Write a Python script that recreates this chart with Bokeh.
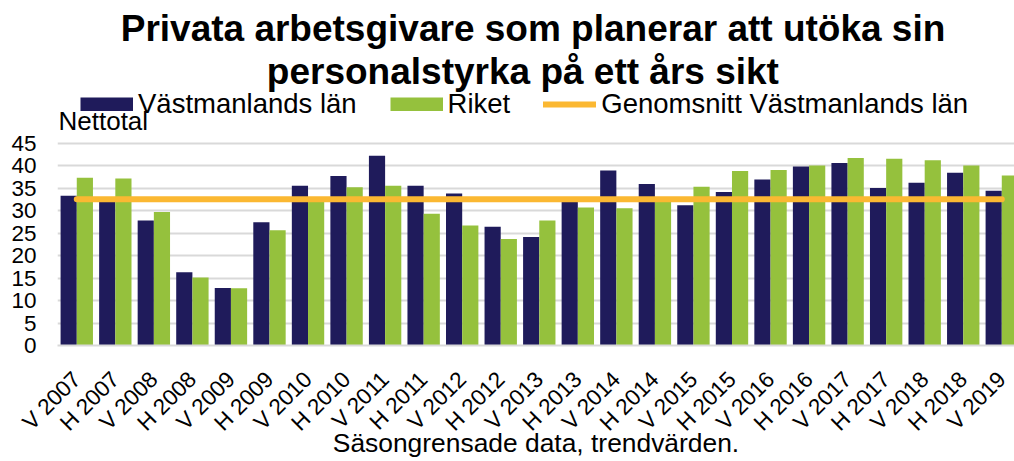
import math
from bokeh.plotting import figure
from bokeh.models import Range1d, FixedTicker, Label, Legend, LegendItem, ColumnDataSource
from bokeh.transform import dodge
from bokeh.embed import file_html
from bokeh.resources import INLINE

# ---- data ----
periods = ["V 2007", "H 2007", "V 2008", "H 2008", "V 2009", "H 2009", "V 2010", "H 2010",
           "V 2011", "H 2011", "V 2012", "H 2012", "V 2013", "H 2013", "V 2014", "H 2014",
           "V 2015", "H 2015", "V 2016", "H 2016", "V 2017", "H 2017", "V 2018", "H 2018",
           "V 2019"]
vastmanland = [33.3, 32.8, 27.8, 16.3, 12.8, 27.4, 35.5, 37.7, 42.2, 35.5, 33.8, 26.4, 24.1,
               32.7, 38.9, 35.9, 31.2, 34.1, 36.9, 39.8, 40.6, 35.0, 36.2, 38.4, 34.4]
riket = [37.3, 37.1, 29.7, 15.1, 12.7, 25.6, 32.6, 35.2, 35.5, 29.3, 26.7, 23.7, 27.8,
         30.7, 30.5, 32.6, 35.3, 38.8, 39.0, 40.0, 41.7, 41.5, 41.2, 40.0, 37.8]
genomsnitt = 32.5
y_ticks = [0, 5, 10, 15, 20, 25, 30, 35, 40, 45]
series_names = ["Västmanlands län", "Riket", "Genomsnitt Västmanlands län"]
title_lines = ["Privata arbetsgivare som planerar att utöka sin", "personalstyrka på ett års sikt"]
y_title = "Nettotal"
x_title = "Säsongrensade data, trendvärden."

# ---- style ----
FONT = "Liberation Sans"
NAVY = "#1F1B5B"
GREEN = "#95C13D"
ORANGE = "#FBB832"
GRID = "#D9D9D9"

idx = list(range(len(periods)))
src = ColumnDataSource(dict(x=idx, v=vastmanland, r=riket,
                            avg=[genomsnitt for _ in periods]))

# The plot frame spans the whole upper part of the figure so that the title,
# legend and unit text (drawn inside it) are not clipped; gridlines stop at 45.
p = figure(width=1014, height=461, output_backend="svg", toolbar_location=None,
           x_range=Range1d(-0.5, 24.33), y_range=Range1d(0, 76.7),
           min_border_left=57, min_border_right=0, min_border_top=0, min_border_bottom=114)
p.outline_line_color = None
p.background_fill_color = "white"

p.vbar(x=dodge("x", -0.21), top="v", width=0.42, source=src,
       fill_color=NAVY, line_color=None)
p.vbar(x=dodge("x", 0.21), top="r", width=0.42, source=src,
       fill_color=GREEN, line_color=None)
avg_r = p.line(x="x", y="avg", source=src, line_width=6, line_color=ORANGE, line_cap="round")

# legend swatches (no data drawn)
nan = float("nan")
sw1 = p.line(x=[0], y=[nan], line_width=14, line_color=NAVY, line_cap="butt")
sw2 = p.line(x=[0], y=[nan], line_width=14, line_color=GREEN, line_cap="butt")

legend = Legend(items=[LegendItem(label=series_names[0], renderers=[sw1]),
                       LegendItem(label=series_names[1], renderers=[sw2]),
                       LegendItem(label=series_names[2], renderers=[avg_r])],
                location=(23, 225), orientation="horizontal",
                glyph_width=53, glyph_height=14, label_standoff=5, spacing=33,
                padding=0, margin=0, border_line_color=None, background_fill_alpha=0,
                label_text_font=FONT, label_text_font_size="27.5px", label_text_color="black")
p.add_layout(legend)

# axes
p.yaxis.ticker = FixedTicker(ticks=y_ticks)
p.yaxis.axis_line_color = None
p.yaxis.major_tick_line_color = None
p.yaxis.minor_tick_line_color = None
p.yaxis.major_tick_out = 0
p.yaxis.major_tick_in = 0
p.yaxis.major_label_standoff = 21
p.yaxis.major_label_text_font = FONT
p.yaxis.major_label_text_font_size = "22.5px"
p.yaxis.major_label_text_color = "black"

p.xaxis.ticker = FixedTicker(ticks=idx)
p.xaxis.major_label_overrides = {i: s for i, s in enumerate(periods)}
p.xaxis.major_label_orientation = math.pi / 4
p.xaxis.axis_line_color = GRID
p.xaxis.axis_line_width = 2
p.xaxis.major_tick_line_color = None
p.xaxis.minor_tick_line_color = None
p.xaxis.major_tick_out = 0
p.xaxis.major_tick_in = 0
p.xaxis.major_label_standoff = 30
p.xaxis.major_label_text_font = FONT
p.xaxis.major_label_text_font_size = "22.5px"
p.xaxis.major_label_text_color = "black"
p.xaxis.axis_label = x_title
p.xaxis.axis_label_standoff = -19
p.xaxis.axis_label_text_font = FONT
p.xaxis.axis_label_text_font_style = "normal"
p.xaxis.axis_label_text_font_size = "26.4px"
p.xaxis.axis_label_text_color = "black"

p.xgrid.grid_line_color = None
p.ygrid.grid_line_color = GRID
p.ygrid.grid_line_width = 2

# texts inside the frame (above the 45 gridline)
p.add_layout(Label(x=475.5, y=317, x_units="screen", y_units="screen", text=title_lines[0],
                   text_align="center", text_baseline="alphabetic", text_font=FONT,
                   text_font_style="bold", text_font_size="37px", text_color="black"))
p.add_layout(Label(x=465.4, y=274, x_units="screen", y_units="screen", text=title_lines[1],
                   text_align="center", text_baseline="alphabetic", text_font=FONT,
                   text_font_style="bold", text_font_size="37px", text_color="black"))
p.add_layout(Label(x=1, y=224.5, x_units="screen", y_units="screen", text=y_title,
                   text_align="left", text_baseline="alphabetic", text_font=FONT,
                   text_font_size="26px", text_color="black"))

open("out.html", "w").write(file_html(p, INLINE))
